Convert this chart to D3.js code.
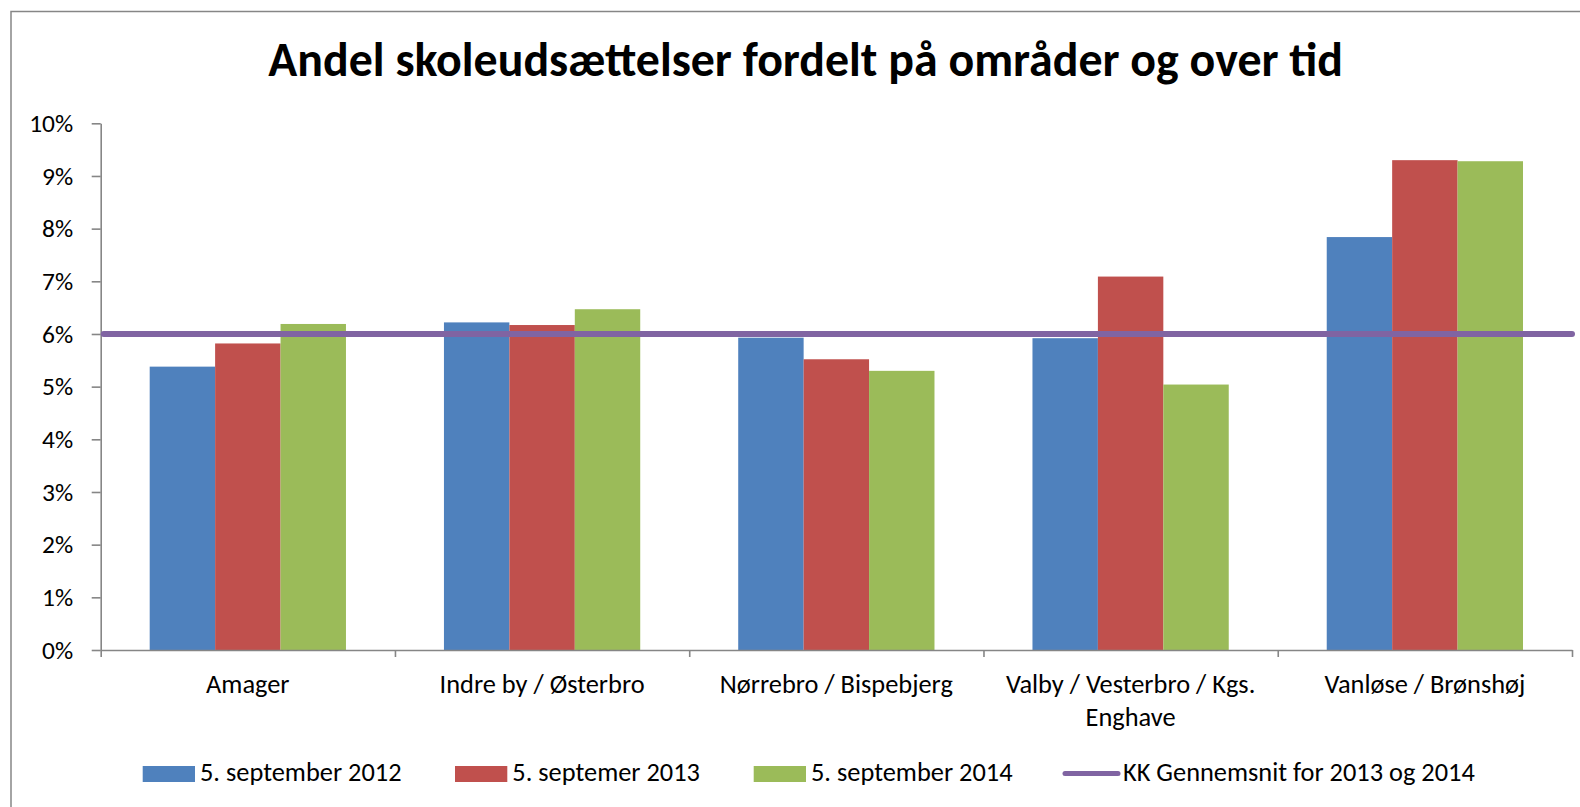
<!DOCTYPE html>
<html><head><meta charset="utf-8">
<script src="https://cdn.jsdelivr.net/npm/d3@7"></script>
<style>body{margin:0;background:#fff} svg{display:block}</style>
</head><body>
<svg id="c" width="1580" height="807"></svg>
<script>
const title = "Andel skoleudsættelser fordelt på områder og over tid";
const categories = ["Amager", "Indre by / Østerbro", "Nørrebro / Bispebjerg", "Valby / Vesterbro / Kgs. Enghave", "Vanløse / Brønshøj"];
const seriesNames = ["5. september 2012", "5. septemer 2013", "5. september 2014"];
const sep2012 = [5.38, 6.22, 5.93, 5.92, 7.84];
const sep2013 = [5.82, 6.17, 5.52, 7.09, 9.30];
const sep2014 = [6.19, 6.47, 5.30, 5.04, 9.28];
const averageName = "KK Gennemsnit for 2013 og 2014";
const averageValue = 6.0;
const yTicks = [0, 1, 2, 3, 4, 5, 6, 7, 8, 9, 10];

const seriesValues = [sep2012, sep2013, sep2014];
const colors = ["#4F81BD", "#C0504D", "#9BBB59"];
const avgColor = "#8064A2";
const axisColor = "#868686";
const FF = "Carlito, Lato, sans-serif";

const svg = d3.select("#c");

function fitSize(str, weight, target) {
  const t = svg.append("text").attr("font-family", FF).attr("font-weight", weight)
    .attr("font-size", 100).text(str);
  const w = t.node().getComputedTextLength();
  t.remove();
  return 100 * target / w;
}
const titleSize = fitSize(title, "bold", 1075);
const tickSize = fitSize("10%", "normal", 44);
const labelSize = fitSize(seriesNames[0], "normal", 201.7);

// chart border
svg.append("path").attr("d", "M11,807V11.5H1580").attr("fill", "none")
  .attr("stroke", axisColor).attr("stroke-width", 1.5);

// title
svg.append("text").attr("x", 805.7).attr("y", 76).attr("text-anchor", "middle")
  .attr("font-family", FF).attr("font-weight", "bold").attr("font-size", titleSize)
  .attr("fill", "#000").text(title);

const x0 = 100.7, x1 = 1572, yTop = 123.3, yBot = 650;
const y = d3.scaleLinear().domain([0, 10]).range([yBot, yTop]);
const x = d3.scaleBand().domain(categories).range([x0, x1]).paddingInner(0.333).paddingOuter(0.1665);
const xs = d3.scaleBand().domain(seriesNames).range([0, x.bandwidth()]);

// bars
const g = svg.append("g");
categories.forEach((c, i) => {
  seriesNames.forEach((s, j) => {
    const v = seriesValues[j][i];
    g.append("rect")
      .attr("x", x(c) + xs(s)).attr("width", xs.bandwidth())
      .attr("y", y(v)).attr("height", y(0) - y(v))
      .attr("fill", colors[j]);
  });
});

// y axis
const yAxis = svg.append("g").attr("transform", `translate(${x0},0)`)
  .call(d3.axisLeft(y).tickValues(yTicks).tickSize(9).tickSizeOuter(0).tickFormat(d => d + "%"));
yAxis.selectAll("path,line").attr("stroke", axisColor).attr("stroke-width", 1.6);
yAxis.selectAll("text").attr("x", -27.5).attr("font-family", FF).attr("font-size", tickSize)
  .attr("fill", "#000");

// x axis with boundary ticks
const xb = d3.scaleLinear().domain([0, categories.length]).range([x0, x1]);
const xAxis = svg.append("g").attr("transform", `translate(0,${yBot})`)
  .call(d3.axisBottom(xb).tickValues(d3.range(categories.length + 1)).tickSize(7).tickSizeOuter(0).tickFormat(""));
xAxis.selectAll("path,line").attr("stroke", axisColor).attr("stroke-width", 1.6);

// category labels (wrapped)
const maxW = x.step() * 0.93;
categories.forEach(c => {
  const t = svg.append("text").attr("text-anchor", "middle")
    .attr("font-family", FF).attr("font-size", labelSize).attr("fill", "#000");
  const words = c.split(" ");
  let lines = [], cur = [];
  words.forEach(w => {
    const test = cur.concat([w]).join(" ");
    const tmp = svg.append("text").attr("font-family", FF).attr("font-size", labelSize).text(test);
    const wd = tmp.node().getComputedTextLength();
    tmp.remove();
    if (wd > maxW && cur.length) { lines.push(cur.join(" ")); cur = [w]; } else cur.push(w);
  });
  lines.push(cur.join(" "));
  lines.forEach((l, k) => {
    t.append("tspan").attr("x", x(c) + x.bandwidth() / 2).attr("y", 692.7 + k * 33.3).text(l);
  });
});

// average line
svg.append("line").attr("x1", x0 + 3).attr("x2", x1).attr("y1", y(averageValue)).attr("y2", y(averageValue))
  .attr("stroke", avgColor).attr("stroke-width", 6).attr("stroke-linecap", "round");

// legend
const legX = [142.7, 455, 753.7];
seriesNames.forEach((s, j) => {
  svg.append("rect").attr("x", legX[j]).attr("y", 766).attr("width", 52.3).attr("height", 16)
    .attr("fill", colors[j]);
  svg.append("text").attr("x", legX[j] + 57.3).attr("y", 780.7)
    .attr("font-family", FF).attr("font-size", labelSize).attr("fill", "#000").text(s);
});
svg.append("line").attr("x1", 1065).attr("x2", 1118).attr("y1", 773.5).attr("y2", 773.5)
  .attr("stroke", avgColor).attr("stroke-width", 5).attr("stroke-linecap", "round");
svg.append("text").attr("x", 1123).attr("y", 780.7)
  .attr("font-family", FF).attr("font-size", labelSize).attr("fill", "#000").text(averageName);
</script>
</body></html>
